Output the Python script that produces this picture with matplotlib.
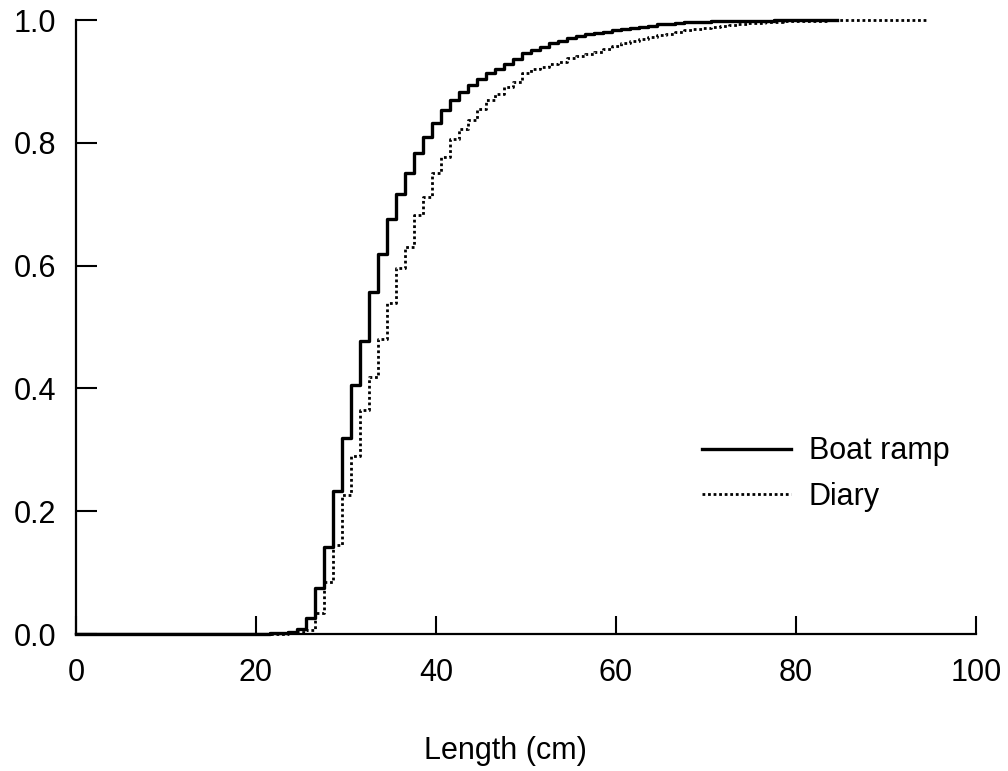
import matplotlib
matplotlib.use("Agg")
import matplotlib.pyplot as plt

plt.rcParams["font.family"] = ["Liberation Sans", "DejaVu Sans"]

# upper bin edges (cm) and cumulative proportion reached at each edge
ramp_edges = [21.5, 22.5, 23.5, 24.5, 25.5, 26.5, 27.5, 28.5, 29.5, 30.5,
              31.5, 32.5, 33.5, 34.5, 35.5, 36.5, 37.5, 38.5, 39.5, 40.5,
              41.5, 42.5, 43.5, 44.5, 45.5, 46.5, 47.5, 48.5, 49.5, 50.5,
              51.5, 52.5, 53.5, 54.5, 55.5, 56.5, 57.5, 58.5, 59.5, 60.5,
              61.5, 62.5, 63.5, 64.5, 65.5, 66.5, 67.5, 68.5, 70.5, 72.5,
              74.5, 77.5]
ramp_cum = [0.001, 0.002, 0.003, 0.008, 0.026, 0.075, 0.142, 0.233, 0.319, 0.405,
            0.477, 0.557, 0.619, 0.676, 0.717, 0.751, 0.783, 0.809, 0.832, 0.853,
            0.870, 0.883, 0.894, 0.904, 0.914, 0.920, 0.928, 0.936, 0.946, 0.951,
            0.956, 0.963, 0.966, 0.971, 0.974, 0.977, 0.979, 0.981, 0.983, 0.985,
            0.987, 0.989, 0.991, 0.993, 0.994, 0.995, 0.996, 0.997, 0.998, 0.998,
            0.999, 1.0]
ramp_max = 84.5

diary_edges = [23.5, 24.5, 25.5, 26.5, 27.5, 28.5, 29.5, 30.5, 31.5, 32.5,
               33.5, 34.5, 35.5, 36.5, 37.5, 38.5, 39.5, 40.5, 41.5, 42.5,
               43.5, 44.5, 45.5, 46.5, 47.5, 48.5, 49.5, 50.5, 51.5, 52.5,
               53.5, 54.5, 55.5, 56.5, 57.5, 58.5, 59.5, 60.5, 61.5, 62.5,
               63.5, 64.5, 65.5, 66.5, 67.5, 68.5, 69.5, 70.5, 71.5, 72.5,
               73.5, 74.5, 76.5, 78.5, 81.5, 83.5]
diary_cum = [0.002, 0.003, 0.007, 0.034, 0.085, 0.145, 0.226, 0.290, 0.365, 0.419,
             0.480, 0.539, 0.596, 0.630, 0.682, 0.712, 0.751, 0.777, 0.806, 0.822,
             0.837, 0.855, 0.870, 0.879, 0.891, 0.899, 0.914, 0.920, 0.923, 0.928,
             0.932, 0.938, 0.941, 0.945, 0.948, 0.953, 0.957, 0.962, 0.966, 0.969,
             0.972, 0.975, 0.978, 0.981, 0.983, 0.985, 0.987, 0.989, 0.991, 0.992,
             0.993, 0.995, 0.996, 0.998, 0.999, 1.0]
diary_max = 94.5

x_ticks = [0, 20, 40, 60, 80, 100]
y_ticks = [0.0, 0.2, 0.4, 0.6, 0.8, 1.0]


def _step_xy(edges, cum, xmax):
    xs = [0] + list(edges) + [xmax]
    ys = [0] + list(cum) + [cum[-1]]
    return xs, ys


fig = plt.figure(figsize=(10.08, 7.71), dpi=100)
ax = fig.add_axes([76 / 1008, 1 - 634 / 771, 900 / 1008, 614 / 771])

x, y = _step_xy(ramp_edges, ramp_cum, ramp_max)
ax.step(x, y, where="post", color="black", lw=2.4, label="Boat ramp", clip_on=False)
x, y = _step_xy(diary_edges, diary_cum, diary_max)
ax.step(x, y, where="post", color="black", lw=2.0, ls=(0, (1, 1)), label="Diary",
        clip_on=False)

ax.set_xlim(0, 100)
ax.set_ylim(0, 1)
ax.set_xticks(x_ticks)
ax.set_yticks(y_ticks)
ax.set_xticklabels([str(v) for v in x_ticks])
ax.set_yticklabels([f"{v:.1f}" for v in y_ticks])
for s in ["top", "right"]:
    ax.spines[s].set_visible(False)
for s in ["left", "bottom"]:
    ax.spines[s].set_linewidth(1.6)
ax.tick_params(axis="x", direction="in", length=13, width=1.5, pad=17, labelsize=22)
ax.tick_params(axis="y", direction="in", length=15, width=1.5, pad=14, labelsize=22)

ax.set_xlabel("Length (cm)", fontsize=22)
ax.xaxis.set_label_coords((505 - 76) / 900, (634 - 736) / 614)

ax.legend(loc="center left", bbox_to_anchor=((702 - 76) / 900, (634 - 474) / 614),
          frameon=False, fontsize=22, handlelength=2.9, handletextpad=0.6,
          labelspacing=0.5, borderpad=0, borderaxespad=0)

fig.savefig("out.png", dpi=100)
